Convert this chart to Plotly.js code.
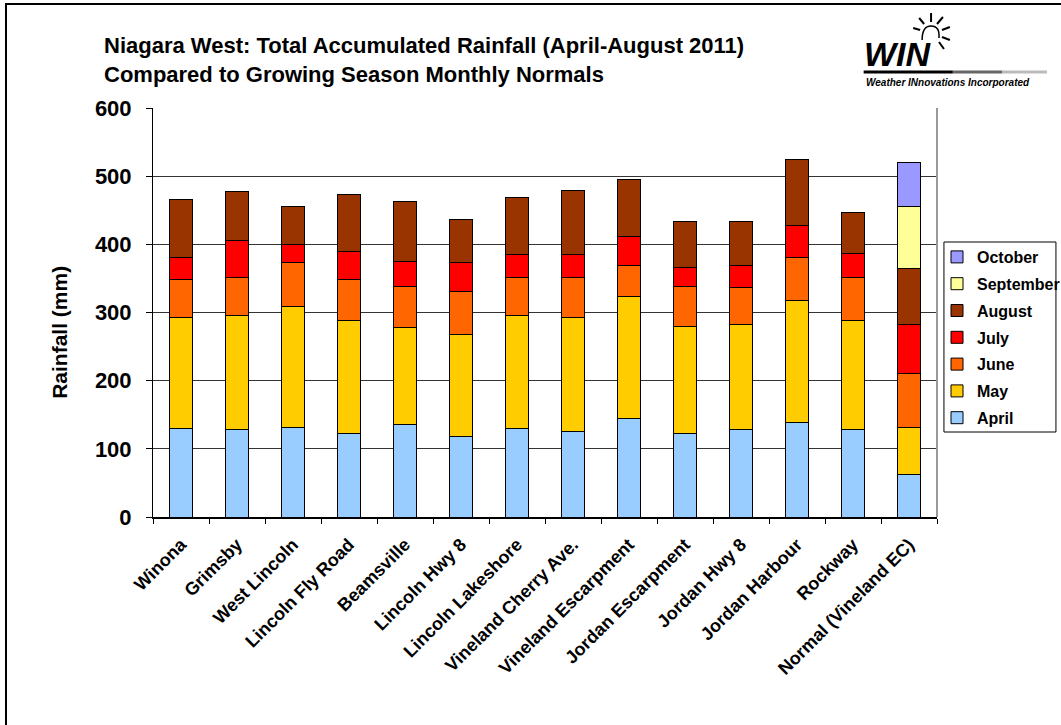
<!DOCTYPE html>
<html>
<head>
<meta charset="utf-8">
<script src="https://cdn.plot.ly/plotly-3.0.1.min.js"></script>
<style>
  html, body { margin: 0; padding: 0; background: #fff; overflow: hidden; }
  #chart { width: 1061px; height: 725px; position: absolute; left: 0; top: 0; }
  #frame { position: absolute; left: 5px; top: 3px; width: 1100px; height: 800px; border: 2px solid #000; pointer-events: none; }
</style>
</head>
<body>
<div id="chart"></div>
<div id="frame"></div>
<script>
// ---- data ----
const stations = ["Winona", "Grimsby", "West Lincoln", "Lincoln Fly Road", "Beamsville",
  "Lincoln Hwy 8", "Lincoln Lakeshore", "Vineland Cherry Ave.", "Vineland Escarpment",
  "Jordan Escarpment", "Jordan Hwy 8", "Jordan Harbour", "Rockway", "Normal (Vineland EC)"];
const april     = [130, 129, 131, 123, 135, 118, 130, 126, 145, 122, 128, 139, 128, 62];
const may       = [162, 167, 178, 165, 143, 150, 165, 166, 179, 157, 155, 179, 160, 69];
const june      = [57, 55, 64, 61, 60, 63, 56, 59, 45, 59, 54, 62, 63, 79];
const july      = [31, 55, 27, 41, 37, 42, 34, 34, 42, 28, 32, 47, 36, 73];
const august    = [86, 71, 55, 83, 88, 64, 83, 94, 84, 68, 65, 97, 60, 82];
const september = [null, null, null, null, null, null, null, null, null, null, null, null, null, 91];
const october   = [null, null, null, null, null, null, null, null, null, null, null, null, null, 64];
const monthNames = ["April", "May", "June", "July", "August", "September", "October"];
const yTicks = [0, 100, 200, 300, 400, 500, 600];

const series = [april, may, june, july, august, september, october];
const colors = ["#99CCFF", "#FFCC00", "#FF6600", "#FF0000", "#993300", "#FFFF99", "#9999FF"];

// ---- layout helpers (pixel -> paper) ----
const M = { l: 153, r: 117, t: 108, b: 208 };
const W = 1061, H = 725;
const pw = W - M.l - M.r, ph = H - M.t - M.b;
const px = x => (x - M.l) / pw;
const py = y => (H - M.b - y) / ph;

const traces = series.map((vals, i) => ({
  type: "bar",
  name: monthNames[i],
  x: stations,
  y: vals,
  legendgroup: "g" + i,
  legendrank: 100 - i,
  marker: { color: colors[i], line: { color: "#000", width: 1 } },
  width: 0.4,
  hoverinfo: "x+y+name"
}));

const shapes = [
  // right border of plot area
  { type: "line", xref: "paper", yref: "paper", x0: 1, x1: 1, y0: 0, y1: 1, line: { color: "#999", width: 2 } },
  // legend box
  { type: "rect", xref: "paper", yref: "paper", x0: px(951), x1: px(1064), y0: py(432), y1: py(242),
    line: { color: "#000", width: 1 }, fillcolor: "#fff", layer: "above" },
  // logo underline (fading)
  { type: "line", xref: "paper", yref: "paper", x0: px(870), x1: px(960), y0: py(72), y1: py(72), line: { color: "#000", width: 3 } },
  { type: "line", xref: "paper", yref: "paper", x0: px(960), x1: px(1010), y0: py(72), y1: py(72), line: { color: "#666", width: 3 } },
  { type: "line", xref: "paper", yref: "paper", x0: px(1010), x1: px(1055), y0: py(72), y1: py(72), line: { color: "#bbb", width: 3 } },
  // sun bulb arc
  { type: "path", xref: "paper", yref: "paper",
    path: `M ${px(929)} ${py(40)} Q ${px(929)} ${py(26)} ${px(938)} ${py(26)} Q ${px(947)} ${py(26)} ${px(946)} ${py(38)}`,
    line: { color: "#000", width: 1.5 } }
];
// sun rays
const rays = [[938, 22, 938, 13], [944, 24, 950, 17], [949, 30, 957, 27], [949, 37, 957, 40], [946, 42, 951, 49], [931, 24, 926, 18], [927, 30, 920, 28]];
rays.forEach(r => shapes.push({ type: "line", xref: "paper", yref: "paper",
  x0: px(r[0]), y0: py(r[1]), x1: px(r[2]), y1: py(r[3]), line: { color: "#000", width: 2 } }));

const annotations = [
  { xref: "paper", yref: "paper", x: px(868), y: py(54), xanchor: "left", yanchor: "middle", showarrow: false,
    text: "<b><i>WIN</i></b>", font: { family: "Liberation Sans, Arial, sans-serif", size: 34, color: "#000" } },
  { xref: "paper", yref: "paper", x: px(870), y: py(82), xanchor: "left", yanchor: "middle", showarrow: false,
    text: "<b><i>Weather INnovations Incorporated</i></b>", font: { family: "Liberation Sans, Arial, sans-serif", size: 10, color: "#000" } },
  // y-axis title
  { xref: "paper", yref: "paper", x: px(58), y: py(332), xanchor: "center", yanchor: "middle", showarrow: false,
    textangle: -90, text: "Rainfall (mm)", font: { size: 21, weight: "bold", color: "#000" } }
];

const layout = {
  width: W, height: H,
  margin: M,
  paper_bgcolor: "#fff", plot_bgcolor: "#fff",
  font: { family: "Liberation Sans, Arial, sans-serif", color: "#000" },
  barmode: "stack",
  title: {
    text: "Niagara West: Total Accumulated Rainfall (April-August 2011)<br>Compared to Growing Season Monthly Normals",
    xref: "container", yref: "container", x: 104 / W, xanchor: "left", y: 1 - 53 / H, yanchor: "top",
    font: { size: 22, weight: "bold", color: "#000" }
  },
  xaxis: {
    type: "category",
    showline: true, linecolor: "#000", linewidth: 2,
    ticks: "outside", tickson: "boundaries", ticklen: 5, tickcolor: "#000", tickwidth: 1,
    tickangle: -45,
    ticklabelstandoff: 8,
    tickfont: { size: 18, weight: "bold", color: "#000" },
    showgrid: false,
    automargin: false
  },
  yaxis: {
    range: [0, 600],
    tickvals: yTicks,
    ticktext: yTicks.map(String),
    showline: true, linecolor: "#000", linewidth: 1,
    ticks: "outside", ticklen: 6, tickcolor: "#000",
    tickfont: { size: 22, weight: "bold", color: "#000" },
    ticklabelstandoff: 10,
    showgrid: true, gridcolor: "#333", gridwidth: 1,
    zeroline: false,
    automargin: false
  },
  showlegend: true,
  legend: {
    xref: "container", yref: "container",
    x: 937 / W, xanchor: "left",
    y: 1 - 240 / H, yanchor: "top",
    traceorder: "grouped",
    tracegroupgap: 3,
    bgcolor: "rgba(0,0,0,0)", borderwidth: 0,
    font: { size: 16, weight: "bold", color: "#000" }
  },
  shapes: shapes,
  annotations: annotations
};

Plotly.newPlot("chart", traces, layout, { displayModeBar: false, staticPlot: true });
</script>
</body>
</html>
